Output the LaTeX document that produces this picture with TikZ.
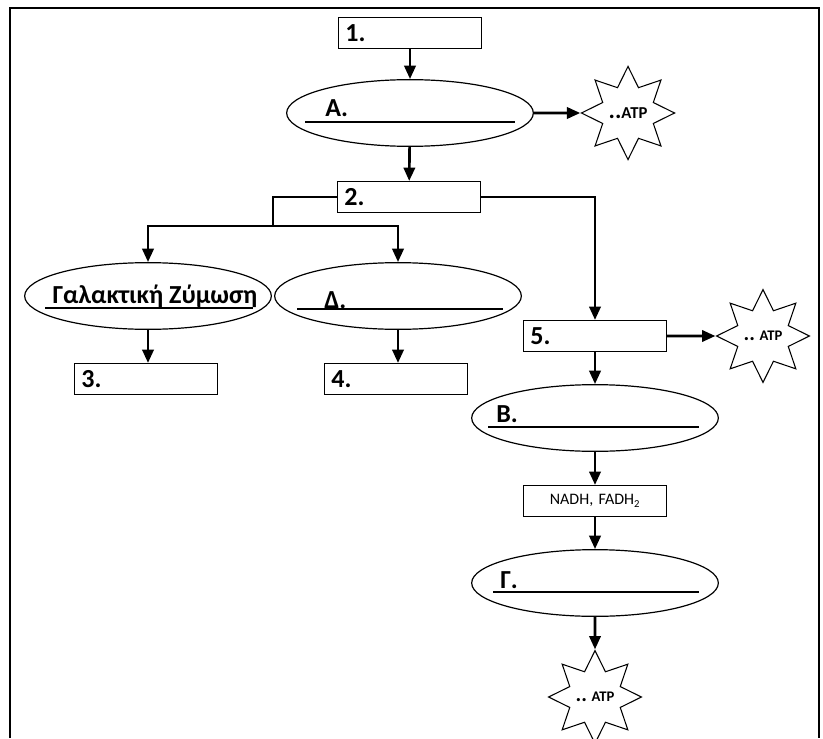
\documentclass[tikz,border=0pt]{standalone}
\usepackage{fontspec}
\setmainfont{Carlito}
\usetikzlibrary{arrows.meta,shapes.geometric}

\begin{document}
\begin{tikzpicture}[x=0.75pt, y=-0.75pt,
    box/.style={draw, line width=1.1pt, minimum height=23pt, text width=97pt, inner xsep=5pt, inner ysep=0pt, align=left, font=\bfseries\fontsize{19.5}{20}\selectfont},
    stage/.style={draw, ellipse, line width=0.9pt, minimum width=185pt, minimum height=50pt},
    burst/.style={draw, star, star points=8, star point ratio=1.7, line width=0.8pt, minimum size=68pt, inner sep=0pt, font=\bfseries\fontsize{11}{12}\selectfont},
    flow/.style={line width=2pt, -{Triangle[length=10pt,width=8.5pt]}},
    blank/.style={line width=1pt},
    tag/.style={anchor=base west, inner sep=0pt, font=\bfseries\fontsize{19.5}{20}\selectfont}]
    \useasboundingbox (0,0) rectangle (823,738);
    \draw[line width=1.8pt] (10,738) |- (819,8) -- (819,738);

    \node[box] (box1) at (410,33) {1.};
    \node[stage] (A) at (410,113) {};
    \node[burst, font=\bfseries\fontsize{12.5}{13}\selectfont] (atp1) at (628,113) {{\fontsize{18}{18}\selectfont ..}ATP};
    \node[box] (box2) at (409,197) {2.};
    \node[stage] (lactic) at (148,296) {};
    \node[stage] (delta) at (398,296) {};
    \node[box] (box3) at (146,379) {3.};
    \node[box] (box4) at (396,379) {4.};
    \node[box] (box5) at (595,336) {5.};
    \node[burst] (atp2) at (763,336) {{\fontsize{16}{16}\selectfont ..} ATP};
    \node[stage] (B) at (595,418) {};
    \node[box, align=center, font=\fontsize{12}{13}\selectfont] (carriers) at (595,501) {NADH, FADH\textsubscript{2}};
    \node[stage] (G) at (595,583) {};
    \node[burst] (atp3) at (595,697) {{\fontsize{16}{16}\selectfont ..} ATP};

    % fill-in lines
    \draw[blank] ([shift={(-105,9)}]A.center) -- ([shift={(105,9)}]A.center);
    \node[tag] (Atag) at ([shift={(-85,4)}]A.center) {Α.};
    \draw[blank] ([shift={(-103,12)}]lactic.center) -- ([shift={(105,12)}]lactic.center);
    \node[tag, anchor=base] (lactictag) at ([shift={(7,7)}]lactic.center) {Γαλακτική Ζύμωση};
    \draw[blank] ([shift={(-101,13)}]delta.center) -- ([shift={(105,13)}]delta.center);
    \node[tag] (deltatag) at ([shift={(-74,12)}]delta.center) {Δ.};
    \draw[blank] ([shift={(-107,9)}]B.center) -- ([shift={(104,9)}]B.center);
    \node[tag] (Btag) at ([shift={(-99,4)}]B.center) {Β.};
    \draw[blank] ([shift={(-102,9)}]G.center) -- ([shift={(104,9)}]G.center);
    \node[tag] (Gtag) at ([shift={(-95,5)}]G.center) {Γ.};

    \coordinate (split) at (273,226);
    \draw[flow] (box1) -- (A);
    \draw[flow] (A.east) -- (atp1.west);
    \draw[flow] (A) -- (box2);
    \draw[line width=2pt] (box2.west) -| (split);
    \draw[flow] (split) -| (lactic.north);
    \draw[flow] (split) -| (delta.north);
    \draw[flow] (box2.east) -| (box5.north);
    \draw[flow] (lactic.south) -- (lactic.south |- box3.north);
    \draw[flow] (delta.south) -- (delta.south |- box4.north);
    \draw[flow] (box5.east) -- (atp2.west);
    \draw[flow] (box5) -- (B);
    \draw[flow] (B) -- (carriers);
    \draw[flow] (carriers) -- (G);
    \draw[flow] (G) -- (atp3);
\end{tikzpicture}
\end{document}
